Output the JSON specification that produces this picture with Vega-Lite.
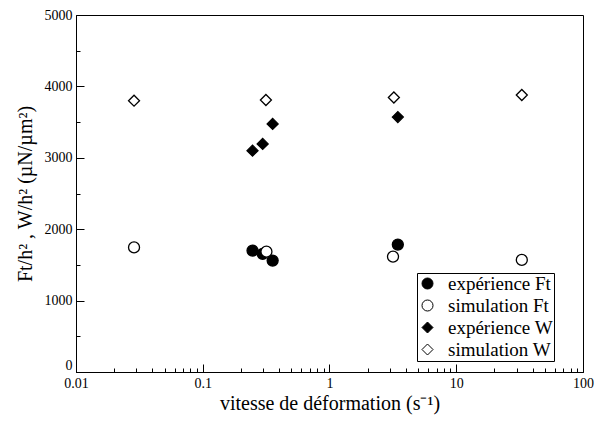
{
  "$schema": "https://vega.github.io/schema/vega-lite/v6.json",
  "width": 507,
  "height": 357,
  "autosize": {"type": "none"},
  "padding": {"left": 76, "top": 15, "right": 11, "bottom": 51},
  "background": "white",
  "config": {
    "view": {"stroke": "black", "strokeWidth": 1},
    "font": "Liberation Serif",
    "axis": {
      "labelFont": "Liberation Serif",
      "titleFont": "Liberation Serif",
      "labelColor": "black",
      "titleColor": "black",
      "tickColor": "black",
      "domainColor": "black",
      "titleFontWeight": "normal",
      "grid": false
    }
  },
  "data": {
    "values": [
      {"serie": "expérience Ft", "taux": 0.247, "valeur": 1700},
      {"serie": "expérience Ft", "taux": 0.297, "valeur": 1655},
      {"serie": "expérience Ft", "taux": 0.356, "valeur": 1560},
      {"serie": "expérience Ft", "taux": 3.46, "valeur": 1785},
      {"serie": "simulation Ft", "taux": 0.0287, "valeur": 1745},
      {"serie": "simulation Ft", "taux": 0.318, "valeur": 1685},
      {"serie": "simulation Ft", "taux": 3.17, "valeur": 1615},
      {"serie": "simulation Ft", "taux": 32.9, "valeur": 1570},
      {"serie": "expérience W", "taux": 0.247, "valeur": 3100},
      {"serie": "expérience W", "taux": 0.297, "valeur": 3195},
      {"serie": "expérience W", "taux": 0.356, "valeur": 3475},
      {"serie": "expérience W", "taux": 3.46, "valeur": 3570},
      {"serie": "simulation W", "taux": 0.0287, "valeur": 3800},
      {"serie": "simulation W", "taux": 0.315, "valeur": 3810},
      {"serie": "simulation W", "taux": 3.22, "valeur": 3845},
      {"serie": "simulation W", "taux": 32.9, "valeur": 3880}
    ]
  },
  "mark": {"type": "point", "filled": true, "stroke": "black", "strokeWidth": 1.3, "opacity": 1, "size": 121},
  "encoding": {
    "x": {
      "field": "taux",
      "type": "quantitative",
      "scale": {"type": "log", "domain": [0.01, 100], "nice": false},
      "axis": {
        "title": "vitesse de déformation (s⁻¹)",
        "titleFontSize": 20,
        "titleBaseline": "alphabetic",
        "titleY": 37,
        "labelFontSize": 14,
        "labelPadding": 12,
        "values": [0.01, 0.02, 0.03, 0.04, 0.05, 0.06, 0.07, 0.08, 0.09, 0.1, 0.2, 0.3, 0.4, 0.5, 0.6, 0.7, 0.8, 0.9, 1, 2, 3, 4, 5, 6, 7, 8, 9, 10, 20, 30, 40, 50, 60, 70, 80, 90, 100],
        "tickSize": {"condition": {"test": "abs(log(datum.value)/LN10 - round(log(datum.value)/LN10)) < 0.001", "value": -8}, "value": -4},
        "labelExpr": "abs(log(datum.value)/LN10 - round(log(datum.value)/LN10)) < 0.001 ? format(datum.value, '~g') : ''",
        "labelFlush": false,
        "labelOverlap": false
      }
    },
    "y": {
      "field": "valeur",
      "type": "quantitative",
      "scale": {"domain": [0, 5000], "nice": false},
      "axis": {
        "title": "Ft/h² , W/h²   (µN/µm²)",
        "titleFontSize": 20,
        "titlePadding": 9,
        "labelFontSize": 14,
        "labelPadding": 12,
        "labelBaseline": {"condition": {"test": "datum.value == 0", "value": "bottom"}, "value": "middle"},
        "values": [0, 500, 1000, 1500, 2000, 2500, 3000, 3500, 4000, 4500, 5000],
        "tickSize": {"condition": {"test": "datum.value % 1000 == 0", "value": -8}, "value": -4},
        "labelExpr": "datum.value % 1000 == 0 ? datum.label : ''",
        "format": "d",
        "labelFlush": false,
        "labelOverlap": false
      }
    },
    "fill": {
      "field": "serie",
      "type": "nominal",
      "scale": {"domain": ["expérience Ft", "simulation Ft", "expérience W", "simulation W"], "range": ["black", "white", "black", "white"]},
      "legend": {
        "title": null,
        "orient": "none",
        "legendX": 341,
        "legendY": 258,
        "strokeColor": "black",
        "fillColor": "white",
        "padding": 1,
        "labelFont": "Liberation Serif",
        "labelFontSize": 19,
        "labelColor": "black",
        "labelOffset": 11,
        "rowPadding": 2,
        "symbolSize": 121,
        "symbolStrokeColor": "black",
        "symbolStrokeWidth": 1,
        "symbolOpacity": 1,
        "encode": {"symbols": {"update": {"stroke": {"value": "black"}, "strokeWidth": {"value": 1}}}}
      }
    },
    "shape": {
      "field": "serie",
      "type": "nominal",
      "scale": {"domain": ["expérience Ft", "simulation Ft", "expérience W", "simulation W"], "range": ["circle", "circle", "diamond", "diamond"]},
      "legend": {
        "title": null,
        "orient": "none",
        "legendX": 341,
        "legendY": 258,
        "strokeColor": "black",
        "fillColor": "white",
        "padding": 1,
        "labelFont": "Liberation Serif",
        "labelFontSize": 19,
        "labelColor": "black",
        "labelOffset": 11,
        "rowPadding": 2,
        "symbolSize": 121,
        "symbolStrokeColor": "black",
        "symbolStrokeWidth": 1,
        "symbolOpacity": 1,
        "encode": {"symbols": {"update": {"stroke": {"value": "black"}, "strokeWidth": {"value": 1}}}}
      }
    }
  }
}
